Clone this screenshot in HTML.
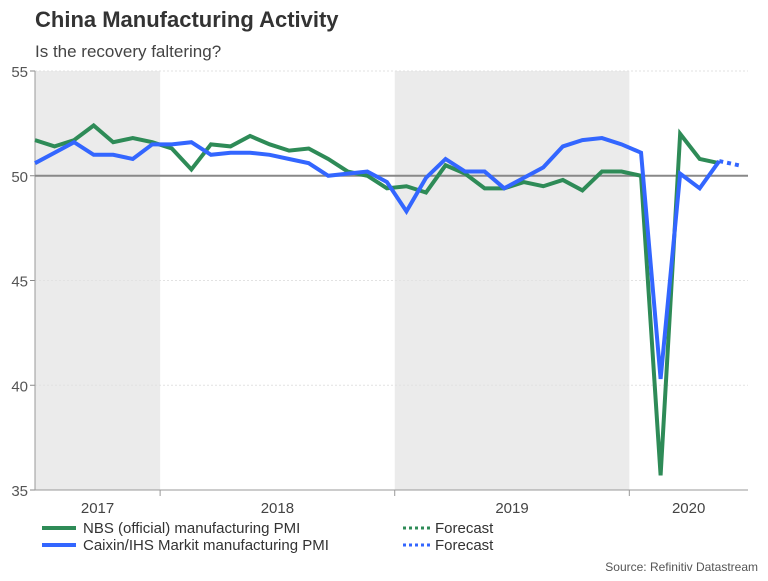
<!DOCTYPE html>
<html><head><meta charset="utf-8"><style>
body{margin:0;background:#fff;font-family:"Liberation Sans",sans-serif;}
</style></head><body>
<svg width="768" height="576" viewBox="0 0 768 576" xmlns="http://www.w3.org/2000/svg">
<text x="35" y="27" font-size="22" font-weight="bold" fill="#333">China Manufacturing Activity</text>
<text x="35" y="57" font-size="17" fill="#444">Is the recovery faltering?</text>
<g id="plot"></g>
<g>
<line x1="42" y1="528" x2="76" y2="528" stroke="#2e8b57" stroke-width="4"/>
<text x="83" y="533" font-size="15" fill="#333">NBS (official) manufacturing PMI</text>
<line x1="42" y1="545" x2="76" y2="545" stroke="#3366ff" stroke-width="4"/>
<text x="83" y="550" font-size="15" fill="#333">Caixin/IHS Markit manufacturing PMI</text>
<line x1="403" y1="528" x2="430" y2="528" stroke="#2e8b57" stroke-width="3" stroke-dasharray="3,3"/>
<text x="435" y="533" font-size="15" fill="#333">Forecast</text>
<line x1="403" y1="545" x2="430" y2="545" stroke="#3366ff" stroke-width="3" stroke-dasharray="3,3"/>
<text x="435" y="550" font-size="15" fill="#333">Forecast</text>
</g>
<text x="758" y="571" font-size="12" fill="#555" text-anchor="end">Source: Refinitiv Datastream</text>
</svg>
<script>
const nbsValues=[51.7,51.4,51.7,52.4,51.6,51.8,51.6,51.3,50.3,51.5,51.4,51.9,51.5,51.2,51.3,50.8,50.2,50.0,49.4,49.5,49.2,50.5,50.1,49.4,49.4,49.7,49.5,49.8,49.3,50.2,50.2,50.0,35.7,52.0,50.8,50.6];
const caixinValues=[50.6,51.1,51.6,51.0,51.0,50.8,51.5,51.5,51.6,51.0,51.1,51.1,51.0,50.8,50.6,50.0,50.1,50.2,49.7,48.3,49.9,50.8,50.2,50.2,49.4,49.9,50.4,51.4,51.7,51.8,51.5,51.1,40.3,50.1,49.4,50.7];
const caixinForecast=[50.7,50.5];
const yTicks=[35,40,45,50,55];
const yearLabels=["2017","2018","2019","2020"];
const yearStartIdx=[7,19,31];

const NS="http://www.w3.org/2000/svg";
const plot=document.getElementById('plot');
const x0=35,x1=748,dx=19.55,yTop=71,yBot=490;
function xs(i){return x0+i*dx;}
function ys(v){return yBot-(v-35)/20*(yBot-yTop);}
function mk(t,a){const e=document.createElementNS(NS,t);for(const k in a)e.setAttribute(k,a[k]);plot.appendChild(e);return e;}
const bounds=[x0].concat(yearStartIdx.map(k=>xs(k-0.6))).concat([x1]);
for(let j=0;j<4;j++){
  if(j%2===0){const r=mk('rect',{x:bounds[j],y:yTop,width:bounds[j+1]-bounds[j],height:yBot-yTop,fill:'#ebebeb'});
  
  }
  const t=mk('text',{x:(bounds[j]+bounds[j+1])/2,y:513,'font-size':15,fill:'#444','text-anchor':'middle'});
  t.textContent=yearLabels[j];
  
  
}
yTicks.forEach(v=>{
  if(v!==50&&v!==35){const g=mk('line',{x1:x0,x2:x1,y1:ys(v),y2:ys(v),stroke:'#e2e2e2','stroke-dasharray':'2,2'});
  
  }
  const t=mk('text',{x:28,y:ys(v)+6,'font-size':15,fill:'#555','text-anchor':'end'});
  t.textContent=v;
  
  
  const tk=mk('line',{x1:30,x2:x0,y1:ys(v),y2:ys(v),stroke:'#888'});
  
  
});
const ya=mk('line',{x1:x0,x2:x0,y1:yTop,y2:yBot,stroke:'#999'});


const xa=mk('line',{x1:x0,x2:x1,y1:yBot,y2:yBot,stroke:'#999'});


bounds.slice(1,4).forEach((b,i)=>{const t=mk('line',{x1:b,x2:b,y1:yBot,y2:yBot+6,stroke:'#999'});

});
const ref=mk('line',{x1:x0,x2:x1,y1:ys(50),y2:ys(50),stroke:'#888','stroke-width':2});


function pts(arr,off){return arr.map((v,i)=>xs(i+off)+','+ys(v)).join(' ');}
const g=mk('polyline',{points:pts(nbsValues,0),fill:'none',stroke:'#2e8b57','stroke-width':4,'stroke-linejoin':'miter'});


const b=mk('polyline',{points:pts(caixinValues,0),fill:'none',stroke:'#3366ff','stroke-width':4,'stroke-linejoin':'miter'});


const f=mk('polyline',{points:pts(caixinForecast,caixinValues.length-1),fill:'none',stroke:'#3366ff','stroke-width':4,'stroke-dasharray':'4,4'});


</script>
</body></html>
